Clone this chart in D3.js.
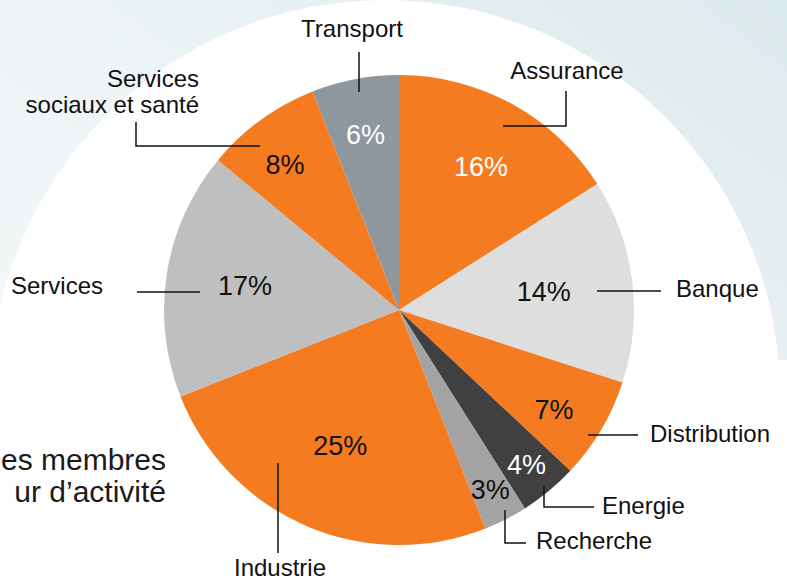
<!DOCTYPE html>
<html>
<head>
<meta charset="utf-8">
<script src="https://cdn.jsdelivr.net/npm/d3@7"></script>
<style>
  html, body { margin: 0; padding: 0; background: #fff; }
  svg { display: block; font-family: 'Liberation Sans', Arial, sans-serif; }
</style>
</head>
<body>
<svg width="787" height="583"></svg>
<script>
// data
let sectors = ['Assurance', 'Banque', 'Distribution', 'Energie', 'Recherche', 'Industrie', 'Services', 'Services sociaux et santé', 'Transport'];
let shares = [16, 14, 7, 4, 3, 25, 17, 8, 6];
let sectorColors = ['#f47b20', '#dedede', '#f47b20', '#404040', '#a3a3a3', '#f47b20', '#bfbfbf', '#f47b20', '#8f979e'];
let pctColors = ['#fff', '#111', '#111', '#fff', '#111', '#111', '#111', '#111', '#fff'];
// title is cut by the left edge in the original, only the visible part is kept
let titleLines = ['es membres', 'ur d\u2019activité'];

// layout of labels (offsets from pie centre)
let pctRadius = [165, 146, 184, 200, 201, 148, 156, 185, 179];
let pctNudge = [1, 0, 2, 0, 0, 0, 0, -2, 0]; // degrees
let leaders = [
  { pts: [[104, -184], [167, -184], [167, -219]], tx: 168, ty: -231, anchor: 'middle' },
  { pts: [[198, -19], [262, -19]], tx: 277, ty: -13, anchor: 'start' },
  { pts: [[189, 125], [239, 125]], tx: 251, ty: 132, anchor: 'start' },
  { pts: [[145, 176], [145, 197], [195, 197]], tx: 203, ty: 204, anchor: 'start' },
  { pts: [[106, 200], [106, 233], [127, 233]], tx: 137, ty: 239, anchor: 'start' },
  { pts: [[-121, 153], [-121, 243]], tx: -119, ty: 266, anchor: 'middle' },
  { pts: [[-199, -18], [-262, -18]], tx: -296, ty: -16, anchor: 'end' },
  { pts: [[-139, -164], [-263, -164], [-263, -188]], tx: -200, ty: -223, anchor: 'end', lines: ['Services', 'sociaux et santé'] },
  { pts: [[-40, -218], [-40, -258]], tx: -47, ty: -273, anchor: 'middle' }
];

let svg = d3.select('svg');
let width = +svg.attr('width');
let height = +svg.attr('height');
let c = { x: 399, y: 310 };
let radius = 235;

// background
let defs = svg.append('defs');
let grad = defs.append('linearGradient')
  .attr('id', 'bg')
  .attr('x1', 0).attr('y1', 1).attr('x2', 1).attr('y2', 0);
grad.append('stop').attr('offset', 0).attr('stop-color', '#f6f9fa');
grad.append('stop').attr('offset', 0.5).attr('stop-color', '#eef4f6');
grad.append('stop').attr('offset', 1).attr('stop-color', '#dce9ec');
svg.append('rect').attr('width', width).attr('height', height).attr('fill', 'url(#bg)');
svg.append('circle').attr('cx', 385).attr('cy', 395).attr('r', 395).attr('fill', '#fff');
svg.append('rect').attr('x', 0).attr('y', 360).attr('width', width).attr('height', height - 360).attr('fill', '#fff');

// title
let title = svg.append('text')
  .attr('text-anchor', 'end')
  .attr('font-size', 30)
  .attr('fill', '#1a1a1a');
title.selectAll('tspan')
  .data(titleLines)
  .enter()
  .append('tspan')
  .attr('x', 166)
  .attr('y', function(d, i) { return 470 + i * 32; })
  .text(function(d) { return d; });

let g = svg.append('g')
  .attr('transform', 'translate(' + c.x + ',' + c.y + ')');

let pie = d3.pie().sort(null).value(function(d) { return d; });
let arcs = pie(shares);
let arc = d3.arc().innerRadius(0).outerRadius(radius);

g.selectAll('path.slice')
  .data(arcs)
  .enter()
  .append('path')
  .attr('class', 'slice')
  .attr('d', arc)
  .attr('fill', function(d, i) { return sectorColors[i]; });

// percentages
g.selectAll('text.pct')
  .data(arcs)
  .enter()
  .append('text')
  .attr('class', 'pct')
  .attr('text-anchor', 'middle')
  .attr('dy', '0.35em')
  .attr('font-size', 27)
  .attr('fill', function(d, i) { return pctColors[i]; })
  .attr('transform', function(d, i) {
    let a = (d.startAngle + d.endAngle) / 2 + pctNudge[i] * Math.PI / 180;
    let r = pctRadius[i];
    return 'translate(' + (Math.sin(a) * r) + ',' + (-Math.cos(a) * r) + ')';
  })
  .text(function(d) { return d.data + '%'; });

// leader lines
let line = d3.line();
g.selectAll('path.leader')
  .data(leaders)
  .enter()
  .append('path')
  .attr('class', 'leader')
  .attr('d', function(d) { return line(d.pts); })
  .attr('fill', 'none')
  .attr('stroke', '#111')
  .attr('stroke-width', 1.5);

// category labels
let labels = g.selectAll('text.cat')
  .data(leaders)
  .enter()
  .append('text')
  .attr('class', 'cat')
  .attr('font-size', 24)
  .attr('fill', '#111')
  .attr('text-anchor', function(d) { return d.anchor; });
labels.each(function(d, i) {
  let t = d3.select(this);
  let rows = d.lines || [sectors[i]];
  t.selectAll('tspan')
    .data(rows)
    .enter()
    .append('tspan')
    .attr('x', d.tx)
    .attr('y', function(r, j) { return d.ty + j * 26; })
    .text(function(r) { return r; });
});
</script>
</body>
</html>
